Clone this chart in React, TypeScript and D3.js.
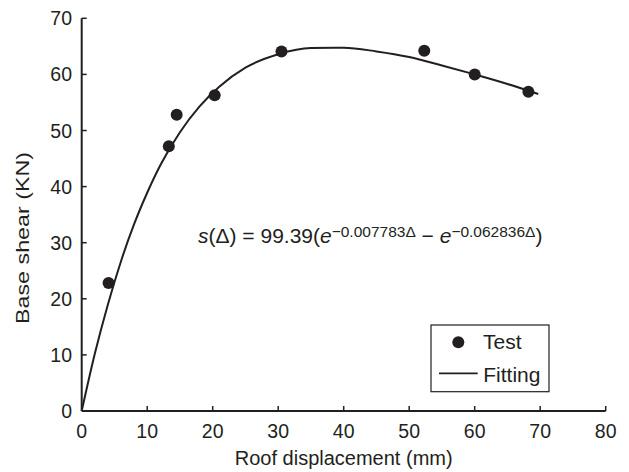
import React from "react";
import * as d3 from "d3";

const testX = [4.1, 13.3, 14.5, 20.3, 30.5, 52.3, 60.0, 68.2];
const testY = [22.8, 47.2, 52.8, 56.3, 64.1, 64.2, 60.0, 56.9];

const fitX = [0, 2, 4, 6, 8, 10, 12, 15, 18, 21, 25, 30, 35, 40, 45, 50, 55, 60, 65, 69.7];
const fitY = [0, 10.2, 19.0, 26.7, 33.3, 38.9, 43.8, 49.7, 54.3, 57.8, 61.2, 63.6, 64.7, 64.75, 64.1, 63.1, 61.6, 60.0, 58.3, 56.5];

const xTicks = [0, 10, 20, 30, 40, 50, 60, 70, 80];
const yTicks = [0, 10, 20, 30, 40, 50, 60, 70];

const ink = "#231f20";
const font = "'Liberation Sans', Arial, sans-serif";

export default function App() {
  const W = 629, H = 472;
  const x = d3.scaleLinear().domain([0, 80]).range([81.7, 605.7]);
  const y = d3.scaleLinear().domain([0, 70]).range([411, 18.3]);
  const line = d3
    .line<number>()
    .x((_, i) => x(fitX[i]))
    .y((d) => y(d))
    .curve(d3.curveMonotoneX);

  return (
    <svg width={W} height={H} style={{ position: "absolute", left: 0, top: 0, background: "#fff" }} fontFamily={font}>
      <rect width={W} height={H} fill="#fff" />
      {/* axes */}
      <line x1={x(0)} x2={x(80)} y1={y(0)} y2={y(0)} stroke={ink} strokeWidth={2} />
      <line x1={x(0)} x2={x(0)} y1={y(0)} y2={y(70)} stroke={ink} strokeWidth={2} />
      {xTicks.map((t) => (
        <g key={"x" + t}>
          {t > 0 && <line x1={x(t)} x2={x(t)} y1={y(0)} y2={y(0) - 5} stroke={ink} strokeWidth={1.5} />}
          <text x={x(t)} y={438} textAnchor="middle" fontSize={19.5} fill={ink}>{t}</text>
        </g>
      ))}
      {yTicks.map((t) => (
        <g key={"y" + t}>
          {t > 0 && <line x1={x(0)} x2={x(0) + 5} y1={y(t)} y2={y(t)} stroke={ink} strokeWidth={1.5} />}
          <text x={72} y={y(t) + 7} textAnchor="end" fontSize={19.5} fill={ink}>{t}</text>
        </g>
      ))}
      <text x={x(40)} y={465} textAnchor="middle" fontSize={20} fill={ink}>Roof displacement (mm)</text>
      <text transform={`translate(29, 324) rotate(-90)`} textAnchor="start" fontSize={19} textLength={172} lengthAdjust="spacingAndGlyphs" fill={ink}>Base shear (KN)</text>

      {/* fitting curve */}
      <path d={line(fitY) || ""} fill="none" stroke={ink} strokeWidth={2} />
      {/* test points */}
      {testX.map((d, i) => (
        <circle key={i} cx={x(d)} cy={y(testY[i])} r={6} fill={ink} />
      ))}

      {/* equation */}
      <text x={198} y={243} fontSize={21} fill={ink}>
        <tspan fontStyle="italic">s</tspan>
        <tspan>(Δ) = 99.39(</tspan>
        <tspan fontStyle="italic">e</tspan>
        <tspan fontSize={15.5} dy={-6}>−0.007783Δ</tspan>
        <tspan dy={6}> − </tspan>
        <tspan fontStyle="italic">e</tspan>
        <tspan fontSize={15.5} dy={-6}>−0.062836Δ</tspan>
        <tspan dy={6}>)</tspan>
      </text>

      {/* legend */}
      <rect x={431} y={325} width={118} height={66.7} fill="#fff" stroke={ink} strokeWidth={1.2} />
      <circle cx={458.3} cy={342.3} r={6} fill={ink} />
      <text x={483} y={349} fontSize={21} fill={ink}>Test</text>
      <line x1={439} x2={477.7} y1={373.3} y2={373.3} stroke={ink} strokeWidth={1.8} />
      <text x={483.3} y={381.5} fontSize={21} fill={ink}>Fitting</text>
    </svg>
  );
}
